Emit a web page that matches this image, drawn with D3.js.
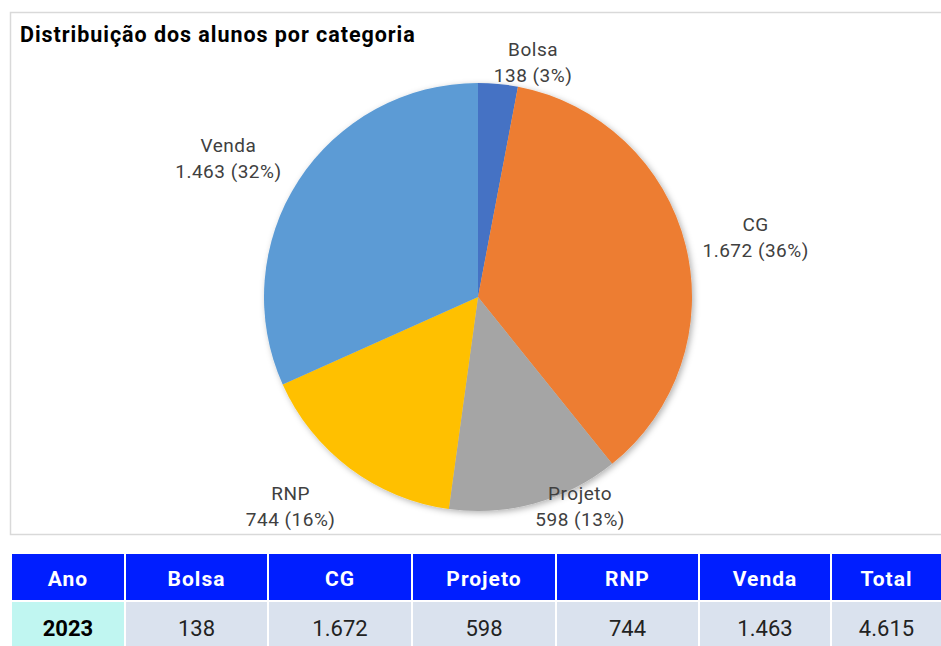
<!DOCTYPE html>
<html>
<head>
<meta charset="utf-8">
<script src="https://cdn.jsdelivr.net/npm/d3@7"></script>
<style>
  html, body { margin: 0; padding: 0; background: #fff; }
  svg { display: block; font-family: Roboto, "Noto Sans", sans-serif; }
</style>
</head>
<body>
<svg id="chart" width="941" height="646"></svg>
<script>
// Student counts per category (2023)
const categories = ["Bolsa", "CG", "Projeto", "RNP", "Venda"];
const values = [138, 1672, 598, 744, 1463];
const year = "2023";
const tableHeaders = ["Ano", "Bolsa", "CG", "Projeto", "RNP", "Venda", "Total"];

const colors = ["#4472C4", "#ED7D31", "#A5A5A5", "#FFC000", "#5B9BD5"];

// Label nudges from the slice's outer edge at its mid angle
const labelNudge = {
  Bolsa: [35, -22], CG: [70, -8], Projeto: [45, 3], RNP: [-59, 38], Venda: [-70, -23]
};

const br = d3.formatLocale({ decimal: ",", thousands: ".", grouping: [3], currency: ["R$", ""] });
const fmt = br.format(",d");

const svg = d3.select("#chart");
const total = d3.sum(values);

// Chart frame
svg.append("rect")
  .attr("x", 10.5).attr("y", 12.5)
  .attr("width", 940).attr("height", 522)
  .attr("fill", "#fff").attr("stroke", "#d9d9d9").attr("stroke-width", 1.5);

svg.append("text")
  .attr("x", 20).attr("y", 42)
  .attr("font-size", 21.5).attr("font-weight", 700).attr("fill", "#000")
  .attr("letter-spacing", 0.95)
  .text("Distribuição dos alunos por categoria");

// Soft shadow under the pie
const defs = svg.append("defs");
const f = defs.append("filter").attr("id", "pieShadow")
  .attr("x", "-10%").attr("y", "-10%").attr("width", "120%").attr("height", "120%");
f.append("feDropShadow")
  .attr("dx", 2).attr("dy", 2).attr("stdDeviation", 3)
  .attr("flood-color", "#000").attr("flood-opacity", 0.3);

const cx = 478, cy = 297, R = 214;
const pie = d3.pie().sort(null).value(d => d.value);
const arcs = pie(categories.map((c, i) => ({ name: c, value: values[i], color: colors[i] })));
const arc = d3.arc().innerRadius(0).outerRadius(R);

const g = svg.append("g").attr("transform", `translate(${cx},${cy})`);
g.append("g").attr("filter", "url(#pieShadow)")
  .selectAll("path").data(arcs).join("path")
  .attr("d", arc)
  .attr("fill", d => d.data.color);

// Data labels: name, then value with share
const lab = g.selectAll("text.lbl").data(arcs).join("text")
  .attr("class", "lbl")
  .attr("text-anchor", "middle")
  .attr("font-size", 19)
  .attr("letter-spacing", 0.5)
  .attr("fill", "#404040")
  .attr("transform", d => {
    const a = (d.startAngle + d.endAngle) / 2;
    const n = labelNudge[d.data.name];
    const x = R * Math.sin(a) + n[0];
    const y = -R * Math.cos(a) + n[1];
    return `translate(${x},${y})`;
  });
lab.append("tspan").attr("x", 0).attr("y", -6).text(d => d.data.name);
lab.append("tspan").attr("x", 0).attr("y", 20)
  .text(d => `${fmt(d.data.value)} (${Math.round(d.data.value / total * 100)}%)`);

// Summary table
const colEdges = [12, 126, 269, 413, 557, 700, 832, 943];
const headTop = 554, headBottom = 600, rowTop = 602, rowBottom = 646;
const rowValues = [year, ...values.map(fmt), fmt(total)];

const t = svg.append("g");
tableHeaders.forEach((h, i) => {
  const x0 = colEdges[i], x1 = colEdges[i + 1] - 2;
  t.append("rect").attr("x", x0).attr("y", headTop)
    .attr("width", x1 - x0).attr("height", headBottom - headTop).attr("fill", "#001EFF");
  t.append("text").attr("x", (x0 + x1) / 2).attr("y", 586)
    .attr("text-anchor", "middle").attr("font-size", 21).attr("font-weight", 700)
    .attr("letter-spacing", 1).attr("fill", "#fff").text(h);
  t.append("rect").attr("x", x0).attr("y", rowTop)
    .attr("width", x1 - x0).attr("height", rowBottom - rowTop)
    .attr("fill", i === 0 ? "#C0F6F1" : "#DAE2EE");
  t.append("text").attr("x", (x0 + x1) / 2).attr("y", 636)
    .attr("text-anchor", "middle").attr("font-size", 22)
    .attr("font-weight", i === 0 ? 700 : 400)
    .attr("fill", i === 0 ? "#000" : "#222").text(rowValues[i]);
});
</script>
</body>
</html>
